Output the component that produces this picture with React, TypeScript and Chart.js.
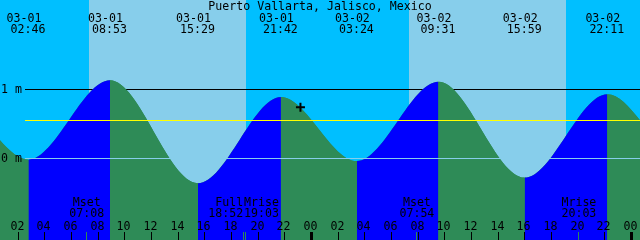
import React, { useEffect, useRef } from "react";
import { Chart, registerables } from "chart.js";

Chart.register(...registerables);

// ---------- data ----------
const YEAR = 2018;
const TITLE = "Puerto Vallarta, Jalisco, Mexico";

// tide extremes (one extra on each side of the visible window)
const tideDates = ["02-28", "02-28", "03-01", "03-01", "03-01", "03-01", "03-02", "03-02", "03-02", "03-02", "03-03", "03-03"];
const tideTimes = ["14:58", "21:13", "02:46", "08:53", "15:29", "21:42", "03:24", "09:31", "15:59", "22:11", "04:02", "10:10"];
const tideHeights = [-0.33, 0.83, -0.02, 1.13, -0.36, 0.89, -0.04, 1.11, -0.28, 0.93, -0.07, 1.09];

const sunriseDates = ["03-01", "03-02"];
const sunriseTimes = ["07:19", "07:19"];
const sunsetDates = ["03-01", "03-02"];
const sunsetTimes = ["19:05", "19:05"];

const moonEvents = ["Mset", "Full", "Mrise", "Mset", "Mrise"];
const moonDates = ["03-01", "03-01", "03-01", "03-02", "03-02"];
const moonTimes = ["07:08", "18:52", "19:03", "07:54", "20:03"];

const levelValues = [1, 0];
const levelLabels = ["1 m", "0 m"];
const meanLevel = 0.55;

const hourTicks = [2, 4, 6, 8, 10, 12, 14, 16, 18, 20, 22, 24, 26, 28, 30, 32, 34, 36, 38, 40, 42, 44, 46, 48];
const hourTickLabels = ["02", "04", "06", "08", "10", "12", "14", "16", "18", "20", "22", "00", "02", "04", "06", "08", "10", "12", "14", "16", "18", "20", "22", "00"];

const markerDate = "03-01";
const markerTime = "23:10";
const markerHeight = 0.74;

const windowStartDate = "03-01";
const windowStartTime = "00:38";
const windowHours = 48;

// ---------- helpers / styles ----------
const toHours = (date: string, time: string) => {
  const [mo, d] = date.split("-").map(Number);
  const [h, m] = time.split(":").map(Number);
  return (Date.UTC(YEAR, mo - 1, d, h, m) - Date.UTC(YEAR, 2, 1)) / 3600000;
};

const DAY = "#87CEEB";
const NIGHT = "#00BFFF";
const RISE = "#0000FF";
const FALL = "#2E8B57";
const FONT = "11.6px 'DejaVu Sans Mono', 'Liberation Mono', monospace";

const decorPlugin = {
  id: "tideDecor",
  beforeDatasetsDraw(chart: any) {
    const { ctx, chartArea: a, scales } = chart;
    const x = scales.x;
    const y = scales.y;
    ctx.save();
    ctx.fillStyle = DAY;
    ctx.fillRect(a.left, a.top, a.width, a.height);
    const rises = sunriseDates.map((d, i) => toHours(d, sunriseTimes[i]));
    const sets = sunsetDates.map((d, i) => toHours(d, sunsetTimes[i]));
    const nights: [number, number][] = [];
    rises.forEach((r, i) => nights.push([i === 0 ? x.min : sets[i - 1], r]));
    nights.push([sets[sets.length - 1], x.max]);
    ctx.fillStyle = NIGHT;
    nights.forEach(([s, e]) => {
      const p0 = Math.round(x.getPixelForValue(Math.max(s, x.min)));
      const p1 = Math.round(x.getPixelForValue(Math.min(e, x.max)));
      if (p1 > p0) ctx.fillRect(p0, a.top, p1 - p0, a.height);
    });
    // 1 m line (under the water)
    ctx.fillStyle = "#000000";
    ctx.fillRect(25, Math.floor(y.getPixelForValue(levelValues[0])), a.right - 25, 1);
    ctx.restore();
  },
  afterDatasetsDraw(chart: any) {
    const { ctx, chartArea: a, scales } = chart;
    const x = scales.x;
    const y = scales.y;
    ctx.save();
    // mean level & 0 m line
    ctx.fillStyle = "#FFFF00";
    ctx.fillRect(25, Math.floor(y.getPixelForValue(meanLevel)), a.right - 25, 1);
    ctx.fillStyle = DAY;
    ctx.fillRect(25, Math.floor(y.getPixelForValue(levelValues[1])), a.right - 25, 1);

    ctx.font = FONT;
    ctx.fillStyle = "#000000";
    ctx.textBaseline = "alphabetic";
    // level labels
    ctx.textAlign = "left";
    levelValues.forEach((v, i) => {
      ctx.fillText(levelLabels[i], 1, Math.floor(y.getPixelForValue(v)) + 4);
    });
    // title
    ctx.textAlign = "center";
    ctx.fillText(TITLE, 320, 10);
    // extremes labels
    tideDates.forEach((d, i) => {
      const t = toHours(d, tideTimes[i]);
      if (t < x.min || t > x.max) return;
      const px = x.getPixelForValue(t);
      ctx.textAlign = "center";
      ctx.fillText(d, px - 4.5, 22);
      ctx.fillText(tideTimes[i], px - 0.5, 33);
    });
    // hour ticks
    hourTicks.forEach((h, i) => {
      const px = Math.floor(x.getPixelForValue(h));
      ctx.fillStyle = "#000000";
      if (hourTickLabels[i] === "00") ctx.fillRect(px - 1, 232, 3, 8);
      else ctx.fillRect(px, 232, 1, 8);
      ctx.textAlign = "center";
      ctx.fillText(hourTickLabels[i], px - 0.5, 230);
    });
    // moon events
    const mpx = moonEvents.map((_, i) => x.getPixelForValue(toHours(moonDates[i], moonTimes[i])));
    moonEvents.forEach((name, i) => {
      const px = mpx[i];
      ctx.fillStyle = FALL;
      ctx.fillRect(Math.floor(px), 232, 1, 8);
      ctx.fillStyle = "#000000";
      let lx = px;
      if (i + 1 < mpx.length && mpx[i + 1] - px < 30) {
        ctx.textAlign = "right";
        lx = px;
      } else if (i > 0 && px - mpx[i - 1] < 30) {
        ctx.textAlign = "left";
        lx = px - 1.5;
      } else {
        ctx.textAlign = "center";
      }
      ctx.fillText(name, lx, 206);
      ctx.fillText(moonTimes[i], lx, 217);
    });
    ctx.restore();
  },
};

export default function App() {
  const ref = useRef<HTMLCanvasElement | null>(null);
  useEffect(() => {
    document.body.style.margin = "0";
    if (!ref.current) return;
    const xMin = toHours(windowStartDate, windowStartTime);
    const tideData = tideDates.map((d, i) => ({ x: toHours(d, tideTimes[i]), y: tideHeights[i] }));
    const chart = new Chart(ref.current, {
      type: "line",
      data: {
        datasets: [
          {
            label: "now",
            data: [{ x: toHours(markerDate, markerTime), y: markerHeight }],
            showLine: false,
            pointStyle: "cross",
            pointRadius: 4.5,
            pointBorderWidth: 2,
            pointBorderColor: "#000000",
            pointBackgroundColor: "#000000",
            order: 0,
          } as any,
          {
            label: "tide",
            data: tideData,
            borderColor: "rgba(0,0,0,0)",
            borderWidth: 0,
            pointRadius: 0,
            fill: "start",
            backgroundColor: FALL,
            cubicInterpolationMode: "monotone",
            segment: {
              backgroundColor: (c: any) => (c.p1.parsed.y > c.p0.parsed.y ? RISE : FALL),
            },
            order: 1,
          } as any,
          {
            label: "tide-under",
            data: tideData,
            borderColor: "rgba(0,0,0,0)",
            borderWidth: 0,
            pointRadius: 0,
            fill: "start",
            backgroundColor: FALL,
            cubicInterpolationMode: "monotone",
            order: 2,
          } as any,
        ],
      },
      options: {
        responsive: false,
        devicePixelRatio: 1,
        animation: false,
        events: [],
        layout: { padding: 0, autoPadding: false },
        scales: {
          x: { type: "linear", min: xMin, max: xMin + windowHours, display: false },
          y: { type: "linear", min: -1.1841, max: 2.2942, display: false },
        },
        plugins: {
          legend: { display: false },
          tooltip: { enabled: false },
        },
      },
      plugins: [decorPlugin],
    });
    return () => chart.destroy();
  }, []);
  return <canvas ref={ref} width={640} height={240} style={{ display: "block" }} />;
}
